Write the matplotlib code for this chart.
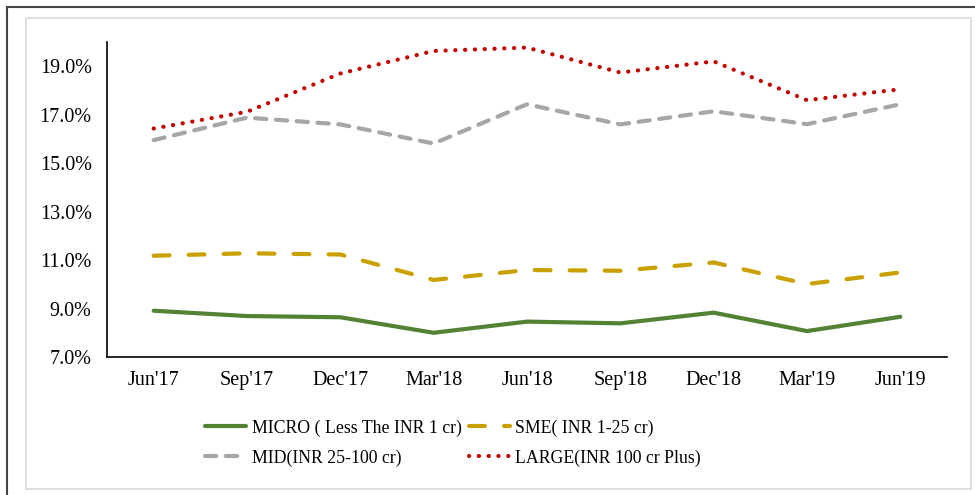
import matplotlib
matplotlib.use("Agg")
import matplotlib.pyplot as plt
from matplotlib.patches import Rectangle
from matplotlib.lines import Line2D

categories = ["Jun'17", "Sep'17", "Dec'17", "Mar'18", "Jun'18", "Sep'18", "Dec'18", "Mar'19", "Jun'19"]
micro = [8.91, 8.69, 8.64, 8.00, 8.46, 8.39, 8.83, 8.07, 8.66]
sme = [11.18, 11.28, 11.23, 10.18, 10.59, 10.56, 10.90, 10.01, 10.49]
mid = [15.95, 16.88, 16.60, 15.81, 17.43, 16.60, 17.14, 16.61, 17.43]
large = [16.43, 17.12, 18.70, 19.63, 19.77, 18.74, 19.20, 17.60, 18.05]
labels = ["MICRO ( Less The INR 1 cr)", "SME( INR 1-25 cr)", "MID(INR 25-100 cr)", "LARGE(INR 100 cr Plus)"]
yticks = [7, 9, 11, 13, 15, 17, 19]

plt.rcParams['font.family'] = ['Liberation Serif', 'DejaVu Serif']

W, H = 975, 495
fig = plt.figure(figsize=(W / 100, H / 100), dpi=100)
fig.patch.set_facecolor('white')

# outer dark border (left and top)
fig.add_artist(Line2D([6.5 / W, 6.5 / W], [0, 1 - 7 / H], transform=fig.transFigure, color='#444444', lw=1.5))
fig.add_artist(Line2D([6.5 / W, 1], [1 - 7 / H, 1 - 7 / H], transform=fig.transFigure, color='#444444', lw=1.5))
# inner light gray frame
fig.add_artist(Rectangle((26 / W, 1 - 489 / H), (971 - 26) / W, (489 - 18) / H,
                         transform=fig.transFigure, fill=False, edgecolor='#d9d9d9', lw=1.2))

left, right, top, bottom = 107, 947, 42, 357
ax = fig.add_axes([left / W, 1 - bottom / H, (right - left) / W, (bottom - top) / H])
x = list(range(len(categories)))

lw = 3.0
h1, = ax.plot(x, micro, color='#548235', lw=lw, solid_capstyle='round', label=labels[0])
h2, = ax.plot(x, sme, color='#c9a000', lw=lw, linestyle=(0, (3.8, 4.6)), dash_capstyle='round', label=labels[1])
h3, = ax.plot(x, mid, color='#a6a6a6', lw=lw, linestyle=(0, (2.7, 2.3)), dash_capstyle='round', label=labels[2])
h4, = ax.plot(x, large, color='#c00000', lw=lw, linestyle=(0, (0.05, 2.3)), dash_capstyle='round', label=labels[3])

ax.set_xlim(-0.5, len(categories) - 0.5)
ax.set_ylim(7, 20)
ax.set_yticks(yticks)
ax.set_yticklabels([f"{v:.1f}%" for v in yticks])
ax.set_xticks(x)
ax.set_xticklabels(categories)
ax.tick_params(axis='both', length=0, labelsize=14.5, colors='black')
ax.tick_params(axis='y', pad=11)
ax.tick_params(axis='x', pad=10)
for s in ['top', 'right']:
    ax.spines[s].set_visible(False)
ax.spines['left'].set_color('black')
ax.spines['bottom'].set_color('black')
ax.spines['left'].set_linewidth(1.2)
ax.spines['bottom'].set_linewidth(1.2)

# order so rows read: MICRO, SME / MID, LARGE
leg = fig.legend([h1, h3, h2, h4], [labels[0], labels[2], labels[1], labels[3]],
                 loc='center', bbox_to_anchor=(453 / W, 1 - 443 / H), ncol=2, frameon=False,
                 fontsize=12.8, handlelength=2.3, handletextpad=0.3, columnspacing=0.4,
                 labelspacing=0.7)

fig.savefig('out.png', dpi=100, facecolor='white')
